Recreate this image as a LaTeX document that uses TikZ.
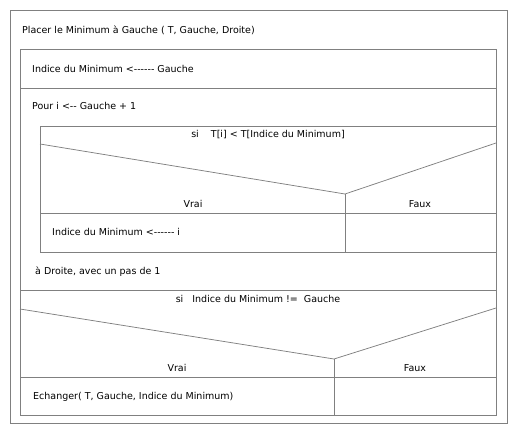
\documentclass[tikz,border=0pt]{standalone}
\usepackage{fontspec}
\setmainfont{DejaVu Sans}[Ligatures=TeXOff]
\usetikzlibrary{positioning}

\begin{document}
\begin{tikzpicture}[
  x=1pt, y=-1pt,
  font=\fontsize{9.5}{11}\selectfont,
  ln/.style={draw=black!50, line width=0.75pt},
  txt/.style={anchor=west, inner sep=0pt},
  lbl/.style={inner sep=0pt},
]
\useasboundingbox (0,0) rectangle (517,436);

% cadres
\draw[ln] (10,10) rectangle (507,423);
\draw[ln] (20,49) rectangle (496,415);
\draw[ln] (40,126) rectangle (496,252);

\node[txt] (titre) at (22,30) {Placer le Minimum à Gauche ( T, Gauche, Droite)};
\node[txt] (init) at (32,69) {Indice du Minimum <------ Gauche};
\draw[ln] (20,88) -- (496,88);
\node[txt] (pour) at (32,106) {Pour i <-- Gauche + 1};

% si dans la boucle
\coordinate (s1g) at (40,144);
\coordinate (s1m) at (345,194);
\coordinate (s1d) at (496,143);
\coordinate (s1b) at (345,252);
\node[lbl] (cond1) at (268,135) {si\ \ \ \ T[i] < T[Indice du Minimum]};
\draw[ln] (s1g) -- (s1m) -- (s1d);
\draw[ln] (s1m) -- (s1b);
\node[lbl] (vrai1) at (193,204) {Vrai};
\node[lbl] (faux1) at (420,204) {Faux};
\draw[ln] (40,213) -- (496,213);
\node[txt] (maj) at (52,232) {Indice du Minimum <------ i};

\node[txt] (fin) at (35,272) {à Droite, avec un pas de 1};
\draw[ln] (20,290) -- (496,290);

% second si
\coordinate (s2g) at (20,309);
\coordinate (s2m) at (334,359);
\coordinate (s2d) at (496,308);
\coordinate (s2b) at (334,415);
\node[lbl] (cond2) at (258,299) {si\ \ \ Indice du Minimum !=\ \ Gauche};
\draw[ln] (s2g) -- (s2m) -- (s2d);
\draw[ln] (s2m) -- (s2b);
\node[lbl] (vrai2) at (177,368) {Vrai};
\node[lbl] (faux2) at (415,368) {Faux};
\draw[ln] (20,377) -- (496,377);
\node[txt] (echange) at (33,397) {Echanger( T, Gauche, Indice du Minimum)};
\end{tikzpicture}
\end{document}
